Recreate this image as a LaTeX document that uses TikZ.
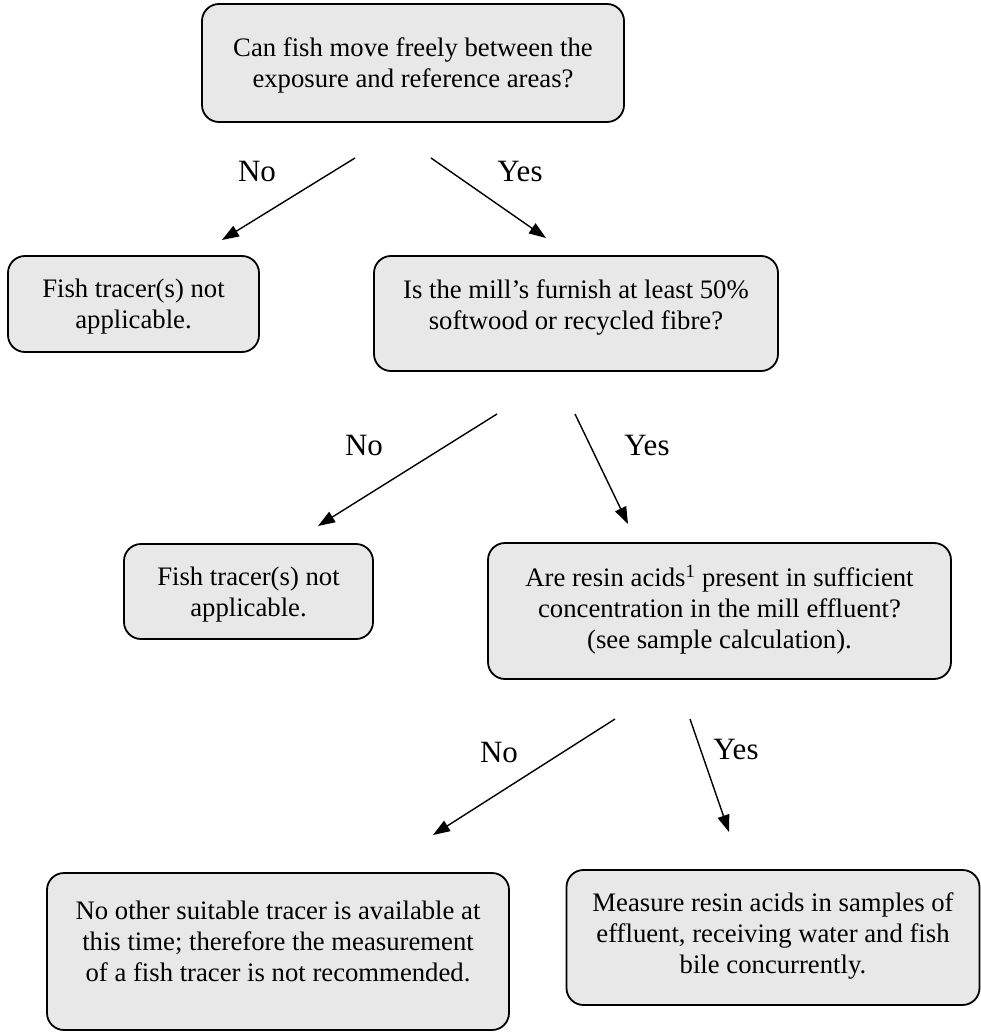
\documentclass[tikz,border=0pt]{standalone}
\usepackage{fontspec}
\setmainfont{Liberation Serif}
\usetikzlibrary{arrows.meta}
\definecolor{boxfill}{RGB}{232,232,232}
\newcommand{\boxtext}[2]{\raisebox{#1}[\height][\depth]{\begin{tabular}{@{}c@{}}#2\end{tabular}}}
\tikzset{
  qbox/.style={draw=black, line width=1.8pt, fill=boxfill, rounded corners=17pt,
    inner sep=0pt, font=\fontsize{26.7}{31.2}\selectfont},
  flow/.style={line width=1.4pt, -{Triangle[length=17pt,width=12pt]}},
  ans/.style={font=\fontsize{31}{36}\selectfont, inner sep=0pt}
}
\begin{document}
\begin{tikzpicture}[x=1pt,y=-1pt]
\useasboundingbox (0,0) rectangle (981,1032);
% boxes
\node[qbox, minimum width=422pt, minimum height=118pt] (b1) at (413,63)
  {\boxtext{-3pt}{Can fish move freely between the\\exposure and reference areas?}};
\node[qbox, minimum width=251pt, minimum height=96pt] (b2) at (133.5,304)
  {\boxtext{-3pt}{Fish tracer(s) not\\applicable.}};
\node[qbox, minimum width=404pt, minimum height=115pt] (b3) at (576,313.5)
  {\boxtext{6pt}{Is the mill’s furnish at least 50\%\\softwood or recycled fibre?}};
\node[qbox, minimum width=249pt, minimum height=95pt] (b4) at (248.5,591.5)
  {\boxtext{-3pt}{Fish tracer(s) not\\applicable.}};
\node[qbox, minimum width=463pt, minimum height=136pt] (b5) at (719.5,611)
  {\boxtext{0pt}{Are resin acids\textsuperscript{1} present in sufficient\\concentration in the mill effluent?\\(see sample calculation).}};
\node[qbox, minimum width=462pt, minimum height=157pt] (b6) at (278,951.5)
  {\boxtext{7pt}{No other suitable tracer is available at\\this time; therefore the measurement\\of a fish tracer is not recommended.}};
\node[qbox, minimum width=413pt, minimum height=135pt] (b7) at (773,937.5)
  {\boxtext{1pt}{Measure resin acids in samples of\\effluent, receiving water and fish\\bile concurrently.}};
% arrow end points
\coordinate (s1) at (355,158); \coordinate (e1) at (222,240);
\coordinate (s2) at (431,158); \coordinate (e2) at (546,238);
\coordinate (s3) at (497,414); \coordinate (e3) at (318,526);
\coordinate (s4) at (575,414); \coordinate (e4) at (628,524);
\coordinate (s5) at (615,719); \coordinate (e5) at (433,835);
\coordinate (s6) at (690,719); \coordinate (e6) at (729,832);
\draw[flow] (s1) -- (e1);
\draw[flow] (s2) -- (e2);
\draw[flow] (s3) -- (e3);
\draw[flow] (s4) -- (e4);
\draw[flow] (s5) -- (e5);
\draw[flow] (s6) -- (e6);
% labels
\node[ans] (n1) at (257,172) {No};
\node[ans] (y1) at (520,172) {Yes};
\node[ans] (n2) at (364,445) {No};
\node[ans] (y2) at (647,445) {Yes};
\node[ans] (n3) at (499,752) {No};
\node[ans] (y3) at (736,749) {Yes};
\end{tikzpicture}
\end{document}
